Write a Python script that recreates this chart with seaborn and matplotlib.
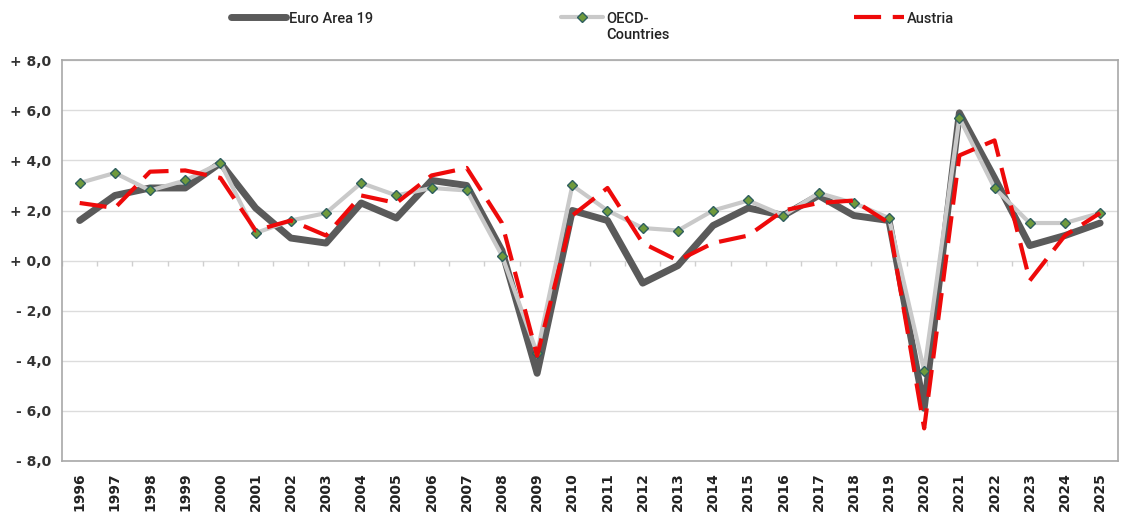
import pandas as pd
import numpy as np
import matplotlib
matplotlib.use("Agg")
import matplotlib.pyplot as plt
import seaborn as sns

years = list(range(1996, 2026))
euro_area = [1.6, 2.6, 2.9, 2.9, 3.9, 2.1, 0.9, 0.7, 2.3, 1.7,
             3.2, 3.0, 0.4, -4.5, 2.0, 1.6, -0.9, -0.2, 1.4, 2.1,
             1.8, 2.6, 1.8, 1.6, -5.9, 5.9, 3.3, 0.6, 1.0, 1.5]
oecd = [3.1, 3.5, 2.8, 3.2, 3.9, 1.1, 1.6, 1.9, 3.1, 2.6,
        2.9, 2.8, 0.2, -3.7, 3.0, 2.0, 1.3, 1.2, 2.0, 2.4,
        1.8, 2.7, 2.3, 1.7, -4.4, 5.7, 2.9, 1.5, 1.5, 1.9]
austria = [2.3, 2.1, 3.55, 3.6, 3.3, 1.2, 1.6, 1.0, 2.6, 2.3,
           3.4, 3.7, 1.5, -3.8, 1.8, 2.9, 0.7, 0.0, 0.7, 1.0,
           2.0, 2.3, 2.4, 1.5, -6.7, 4.2, 4.8, -0.8, 1.0, 1.9]
y_ticks = [-8, -6, -4, -2, 0, 2, 4, 6, 8]


def fmt(v):
    sign = "-" if v < 0 else "+"
    return f"{sign} {abs(v):.1f}".replace(".", ",")


def main() -> None:
    sns.set_style("white")
    plt.rcParams["font.family"] = ["DejaVu Sans"]

    df = pd.DataFrame({"pos": np.arange(len(years)), "euro": euro_area,
                       "oecd": oecd, "austria": austria})

    fig = plt.figure(figsize=(11.29, 5.15), dpi=100)
    ax = fig.add_axes([0.055, 0.105, 0.935, 0.778])

    sns.lineplot(data=df, x="pos", y="euro", ax=ax, color="#5a5a5a",
                 linewidth=5, label="Euro Area 19", zorder=3)
    sns.lineplot(data=df, x="pos", y="oecd", ax=ax, color="#c9c9c9",
                 linewidth=3, marker="D", markersize=5,
                 markerfacecolor="#6f9a3c", markeredgecolor="#2f5f5f",
                 markeredgewidth=1, label="OECD-", zorder=4)
    sns.lineplot(data=df, x="pos", y="austria", ax=ax, color="#ee0a0a",
                 linewidth=3, label="Austria", zorder=5)
    ax.lines[-1].set_dashes((6.5, 2.8))

    ax.set_xlim(-0.5, len(years) - 0.5)
    ax.set_ylim(-8, 8)
    ax.set_yticks(y_ticks)
    ax.set_yticklabels([fmt(v) for v in y_ticks], fontsize=10,
                       fontweight="bold", color="#333333")
    ax.set_xticks(np.arange(len(years)))
    ax.set_xticklabels([str(y) for y in years], rotation=90, fontsize=10,
                       fontweight="bold", color="#222222")
    ax.tick_params(axis="both", length=0, pad=8)
    ax.set_xlabel("")
    ax.set_ylabel("")
    ax.grid(axis="y", color="#dcdcdc", linewidth=1)
    ax.set_axisbelow(True)
    # small category ticks on the zero line
    ax.vlines(np.arange(len(years) + 1) - 0.5, -0.2, 0, color="#cfcfcf",
              linewidth=1, zorder=1)
    for sp in ax.spines.values():
        sp.set_color("#a8a8a8")
        sp.set_linewidth(1.2)

    ax.get_legend().remove()
    handles, labels = ax.get_legend_handles_labels()
    font = {"family": "Roboto", "size": 10.5, "weight": "medium"}
    anchors = [0.193, 0.485, 0.745]
    hlens = [3.8, 2.9, 3.4]
    legs = []
    for h, lab, x, hl in zip(handles, labels, anchors, hlens):
        leg = fig.legend([h], [lab], loc="upper left",
                         bbox_to_anchor=(x, 1.003), frameon=False,
                         handlelength=hl, handletextpad=0.2, prop=font)
        legs.append(leg)
    # second line of the OECD label sits under the first
    fig.canvas.draw()
    txt = legs[1].get_texts()[0]
    bb = txt.get_window_extent().transformed(fig.transFigure.inverted())
    fig.text(bb.x0, bb.y0 - 0.004, "Countries", fontsize=10.5,
             family="Roboto", weight="medium", ha="left", va="top",
             color="#222222")

    plt.savefig("out.png", dpi=100)


if __name__ == "__main__":
    main()
